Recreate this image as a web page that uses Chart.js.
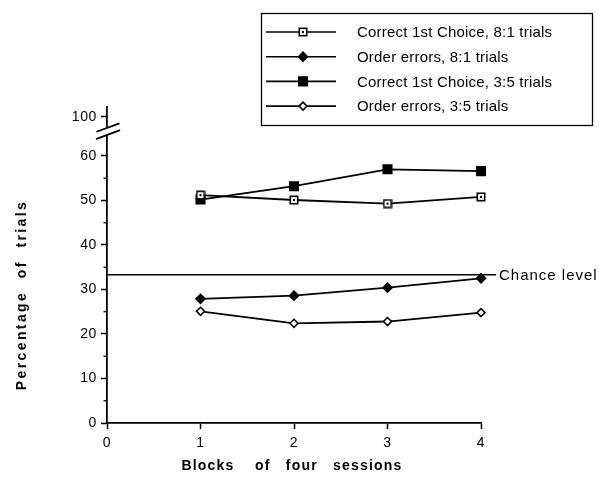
<!DOCTYPE html>
<html><head><meta charset="utf-8">
<script src="https://cdn.jsdelivr.net/npm/chart.js@4.4.0/dist/chart.umd.min.js"></script>
<style>html,body{margin:0;padding:0;background:#fff}canvas{display:block}</style>
</head><body>
<canvas id="c" width="599" height="479"></canvas>
<script>
// ---- data ----
const blocks = [1, 2, 3, 4];
const correct81 = [51.2, 50.1, 49.3, 50.8];
const orderErr81 = [27.9, 28.6, 30.4, 32.5];
const correct35 = [50.2, 53.2, 57.0, 56.6];
const orderErr35 = [25.1, 22.4, 22.8, 24.8];
const chanceLevel = 33.3;
const seriesLabels = ['Correct 1st Choice, 8:1 trials', 'Order errors, 8:1 trials', 'Correct 1st Choice, 3:5 trials', 'Order errors, 3:5 trials'];
const xTicks = [0, 1, 2, 3, 4];
const yTicks = [0, 10, 20, 30, 40, 50, 60];
const yMinorTicks = [5, 15, 25, 35, 45, 55];
const breakTickLabel = '100';
const BREAK_TICK_POS = 68.8;   // axis position of the "100" tick above the break
const BREAK_MARK_POS = 65.6;   // axis position of the break marks
const Y_MAX = 71;
const CHANCE_END = 4.16;
const xTitle = 'Blocks    of   four   sessions';
const yTitle = 'Percentage  of  trials';
const chanceText = 'Chance level';

const FONT = "'Liberation Sans', Arial, Helvetica, sans-serif";

function openSquare() {
  const c = document.createElement('canvas');
  c.width = 10; c.height = 10;
  const g = c.getContext('2d');
  g.fillStyle = '#fff'; g.fillRect(1, 1, 8, 8);
  g.strokeStyle = '#000'; g.lineWidth = 1.6; g.strokeRect(1.3, 1.3, 7.4, 7.4);
  g.fillStyle = '#000'; g.fillRect(4, 4, 2, 2);
  return c;
}
const openSq = openSquare();

const pts = arr => blocks.map((b, i) => ({x: b, y: arr[i]}));
const base = {borderColor: '#000', borderWidth: 1.8, tension: 0, pointBorderColor: '#000', pointBorderWidth: 1.6, showLine: true, clip: false};

const datasets = [
  Object.assign({}, base, {label: seriesLabels[0], data: pts(correct81), pointStyle: openSq, pointRadius: 5, pointBackgroundColor: '#fff'}),
  Object.assign({}, base, {label: seriesLabels[1], data: pts(orderErr81), pointStyle: 'rectRot', pointRadius: 4.5, pointBackgroundColor: '#000'}),
  Object.assign({}, base, {label: seriesLabels[2], data: pts(correct35), pointStyle: 'rect', pointRadius: 6, pointBackgroundColor: '#000'}),
  Object.assign({}, base, {label: seriesLabels[3], data: pts(orderErr35), pointStyle: 'rectRot', pointRadius: 4, pointBackgroundColor: '#fff'}),
  {label: 'chance', data: [{x: 0, y: chanceLevel}, {x: CHANCE_END, y: chanceLevel}], borderColor: '#000', borderWidth: 1.4, pointRadius: 0, showLine: true, clip: false, isChance: true}
];

const deco = {
  id: 'deco',
  beforeDraw(chart) { chart.ctx.letterSpacing = '0.6px'; },
  afterDraw(chart) {
    const ctx = chart.ctx, xs = chart.scales.x, ys = chart.scales.y;
    const L = chart.chartArea.left;
    ctx.save();
    ctx.strokeStyle = '#000'; ctx.fillStyle = '#000';
    // minor y ticks
    ctx.lineWidth = 1.3;
    yMinorTicks.forEach(v => {
      const y = ys.getPixelForValue(v);
      ctx.beginPath(); ctx.moveTo(L - 3.5, y); ctx.lineTo(L, y); ctx.stroke();
    });
    // axis break marks
    const yb = ys.getPixelForValue(BREAK_MARK_POS), cx = L + 1;
    ctx.fillStyle = '#fff';
    ctx.beginPath();
    ctx.moveTo(cx - 11.5, yb + 0.7); ctx.lineTo(cx + 11.5, yb - 7.7);
    ctx.lineTo(cx + 11.5, yb - 0.3); ctx.lineTo(cx - 11.5, yb + 7.9); ctx.closePath(); ctx.fill();
    ctx.lineWidth = 1.8;
    ctx.beginPath(); ctx.moveTo(cx - 11.5, yb + 0.7); ctx.lineTo(cx + 11.5, yb - 7.7); ctx.stroke();
    ctx.beginPath(); ctx.moveTo(cx - 12, yb + 8); ctx.lineTo(cx + 12, yb - 1); ctx.stroke();
    // chance level text
    ctx.fillStyle = '#000';
    ctx.letterSpacing = '1px';
    ctx.font = '15px ' + FONT;
    ctx.textBaseline = 'middle'; ctx.textAlign = 'left';
    ctx.fillText(chanceText, xs.getPixelForValue(CHANCE_END) + 3, ys.getPixelForValue(chanceLevel) + 1);
    // legend
    ctx.letterSpacing = '0.2px';
    ctx.lineWidth = 1.3; ctx.strokeStyle = '#000';
    ctx.strokeRect(261.5, 13.5, 331, 112);
    chart.data.datasets.forEach((ds, i) => {
      if (ds.isChance) return;
      const y = 32 + i * 24.7;
      ctx.lineWidth = 1.6;
      ctx.beginPath(); ctx.moveTo(266, y); ctx.lineTo(336, y); ctx.stroke();
      ctx.fillStyle = ds.pointBackgroundColor; ctx.strokeStyle = '#000';
      ctx.lineWidth = ds.pointBorderWidth;
      Chart.helpers.drawPoint(ctx, {pointStyle: ds.pointStyle, radius: ds.pointRadius, rotation: 0, borderWidth: ds.pointBorderWidth}, 303, y);
      ctx.fillStyle = '#000';
      ctx.font = '15px ' + FONT;
      ctx.textBaseline = 'middle';
      ctx.fillText(ds.label, 357, y + 1);
    });
    // axis titles
    ctx.font = 'bold 14px ' + FONT;
    ctx.textAlign = 'center'; ctx.textBaseline = 'middle';
    ctx.letterSpacing = '1.2px';
    ctx.fillText(xTitle, 292, 466);
    ctx.save();
    ctx.translate(22, 295); ctx.rotate(-Math.PI / 2);
    ctx.letterSpacing = '2.4px';
    ctx.fillText(yTitle, 0, 0);
    ctx.restore();
    ctx.restore();
  }
};

new Chart(document.getElementById('c'), {
  type: 'scatter',
  data: {datasets},
  options: {
    responsive: false, animation: false, devicePixelRatio: 1,
    layout: {padding: {top: 107, right: 118, left: 0, bottom: 0}},
    plugins: {legend: {display: false}, tooltip: {enabled: false}},
    scales: {
      x: {
        type: 'linear', min: 0, max: 4,
        afterBuildTicks: s => { s.ticks = xTicks.map(v => ({value: v})); },
        afterFit: s => { s.height = 56; },
        ticks: {color: '#000', font: {size: 14, family: FONT}, padding: 6},
        grid: {drawOnChartArea: false, drawTicks: true, tickLength: 6, tickColor: '#000', tickWidth: 1.5},
        border: {color: '#000', width: 1.8}
      },
      y: {
        type: 'linear', min: 0, max: Y_MAX,
        afterBuildTicks: s => { s.ticks = yTicks.concat([BREAK_TICK_POS]).map(v => ({value: v})); },
        afterFit: s => { s.width = 107; },
        ticks: {color: '#000', font: {size: 14, family: FONT}, padding: 4,
          callback: v => v === BREAK_TICK_POS ? breakTickLabel : String(v)},
        grid: {drawOnChartArea: false, drawTicks: true, tickLength: 6, tickColor: '#000', tickWidth: 1.5},
        border: {color: '#000', width: 1.8}
      }
    }
  },
  plugins: [deco]
});
</script>
</body></html>
